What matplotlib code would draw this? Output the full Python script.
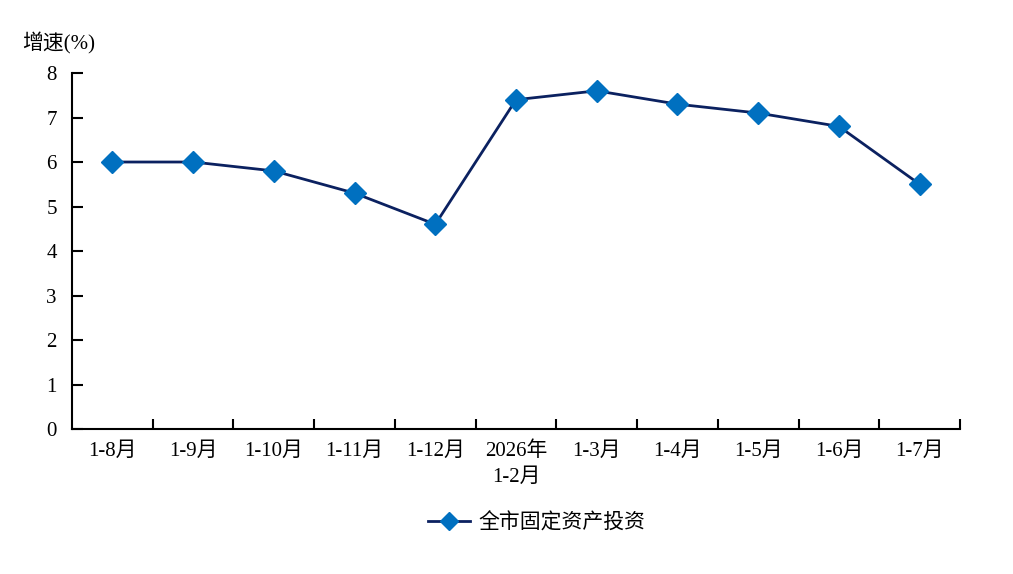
import matplotlib
matplotlib.use("Agg")
import matplotlib.pyplot as plt

plt.rcParams['font.family'] = ['Liberation Serif', 'Noto Sans CJK SC', 'DejaVu Sans']

# 数据
categories = ['1-8月', '1-9月', '1-10月', '1-11月', '1-12月', '2026年\n1-2月',
              '1-3月', '1-4月', '1-5月', '1-6月', '1-7月']
growth = [6.0, 6.0, 5.8, 5.3, 4.6, 7.4, 7.6, 7.3, 7.1, 6.8, 5.5]
series_name = '全市固定资产投资'
y_ticks = [0, 1, 2, 3, 4, 5, 6, 7, 8]

fig = plt.figure(figsize=(10.13, 5.74), dpi=100)
ax = fig.add_axes([0.0711, 0.2526, 0.8766, 0.6202])

x = list(range(len(categories)))
ax.plot(x, growth, color='#0b2160', linewidth=2, marker='D', markersize=11,
        markerfacecolor='#0070c0', markeredgecolor='#0070c0', label=series_name)

ax.set_xlim(-0.5, len(categories) - 0.5)
ax.set_ylim(0, 8)
ax.set_yticks(y_ticks)
ax.set_xticks(x)
ax.set_xticklabels(categories, fontsize=15, linespacing=1.45)
ax.set_xticks([i + 0.5 for i in range(len(categories))], minor=True)
ax.tick_params(axis='x', which='major', length=0, pad=9)
ax.tick_params(axis='x', which='minor', direction='in', length=7, width=1.5)
ax.tick_params(axis='y', direction='in', length=8, width=1.5, labelsize=15, pad=11)

for s in ['top', 'right']:
    ax.spines[s].set_visible(False)
for s in ['left', 'bottom']:
    ax.spines[s].set_linewidth(1.5)

fig.text(0.058, 0.924, '增速(%)', ha='center', va='center', fontsize=15)

ax.legend(loc='center', bbox_to_anchor=(0.523, -0.265), frameon=False,
          fontsize=15, handlelength=2.0, handletextpad=0.4, markerscale=0.8)

fig.savefig('out.png', dpi=100)
